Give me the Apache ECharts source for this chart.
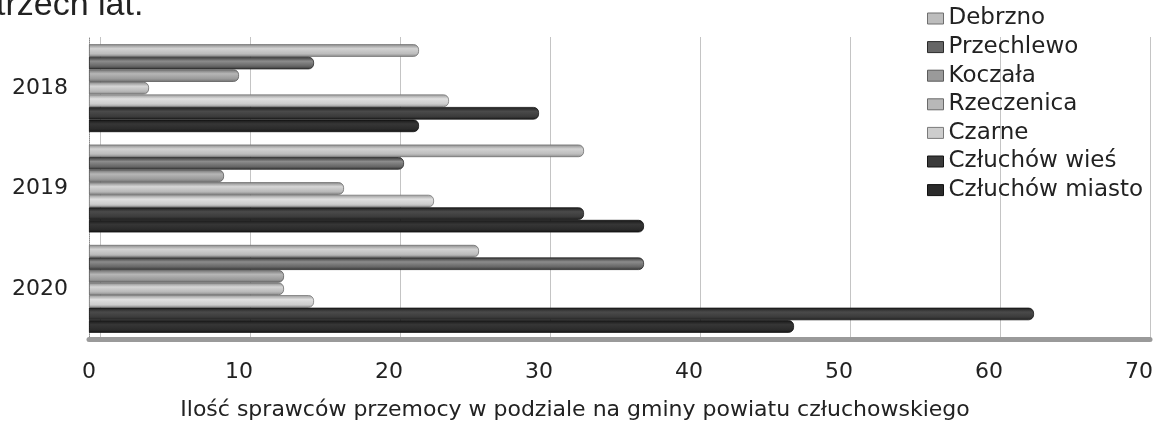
<!DOCTYPE html>
<html>
<head>
<meta charset="utf-8">
<script src="https://cdn.jsdelivr.net/npm/echarts@6/dist/echarts.min.js"></script>
<style>
html,body{margin:0;padding:0;background:#fff;}
#chart{width:1159px;height:421px;}
</style>
</head>
<body>
<div id="chart"></div>
<script>
// ---- data ----
const years = ['2018', '2019', '2020'];
const seriesNames = ['Debrzno', 'Przechlewo', 'Koczała', 'Rzeczenica', 'Czarne', 'Człuchów wieś', 'Człuchów miasto'];
const debrzno = [22, 33, 26];
const przechlewo = [15, 21, 37];
const koczala = [10, 9, 13];
const rzeczenica = [4, 17, 13];
const czarne = [24, 23, 15];
const czluchowWies = [30, 33, 63];
const czluchowMiasto = [22, 37, 47];
const xTicks = [0, 10, 20, 30, 40, 50, 60, 70];
const axisTitle = 'Ilość sprawców przemocy w podziale na gminy powiatu człuchowskiego';
const headText = 'trzech lat.';

const values = [debrzno, przechlewo, koczala, rzeczenica, czarne, czluchowWies, czluchowMiasto];
// [edge, highlight, body, border]
const palette = [
  ['#8a8a8a', '#d2d2d2', '#bdbdbd', '#6e6e6e'],
  ['#333333', '#8c8c8c', '#666666', '#2a2a2a'],
  ['#707070', '#b6b6b6', '#9a9a9a', '#5a5a5a'],
  ['#868686', '#d6d6d6', '#b8b8b8', '#6a6a6a'],
  ['#969696', '#e0e0e0', '#cdcdcd', '#7a7a7a'],
  ['#1e1e1e', '#4a4a4a', '#3b3b3b', '#151515'],
  ['#161616', '#363636', '#2b2b2b', '#101010']
];

function grad(p) {
  return new echarts.graphic.LinearGradient(0, 0, 0, 1, [
    {offset: 0, color: p[0]},
    {offset: 0.35, color: p[1]},
    {offset: 0.75, color: p[2]},
    {offset: 1, color: p[0]}
  ]);
}

const chart = echarts.init(document.getElementById('chart'), null, {renderer: 'canvas'});

const series = seriesNames.map((name, i) => ({
  name: name,
  type: 'bar',
  xAxisIndex: 0,
  yAxisIndex: 0,
  data: values[i],
  barGap: '0%',
  barCategoryGap: '12.4%',
  z: 3,
  itemStyle: {
    color: grad(palette[i]),
    borderRadius: [0, 5, 5, 0],
    borderColor: palette[i][3],
    borderWidth: 0.8
  },
  emphasis: {disabled: true}
}));

// empty series on the back grid so its axes render
series.push({
  type: 'bar', name: '__back', xAxisIndex: 1, yAxisIndex: 1, data: [], silent: true
});

const option = {
  backgroundColor: '#ffffff',
  animation: false,
  textStyle: {fontFamily: 'DejaVu Sans'},
  legend: {
    data: seriesNames.map((n, i) => ({name: n, itemStyle: {color: palette[i][2], borderColor: palette[i][3], borderWidth: 1}})),
    orient: 'vertical',
    left: 927,
    top: 7,
    padding: 0,
    itemWidth: 16,
    itemHeight: 11,
    itemGap: 5.6,
    icon: 'rect',
    selectedMode: false,
    textStyle: {fontFamily: 'DejaVu Sans', fontSize: 23, color: '#222', lineHeight: 23}
  },
  grid: [
    {left: 89, right: 20, top: 38, bottom: 82, containLabel: false, outerBoundsMode: 'none'},
    {left: 100, right: 9, top: 37, bottom: 82, containLabel: false, outerBoundsMode: 'none'}
  ],
  xAxis: [
    {
      type: 'value', gridIndex: 0, min: 0, max: 70, interval: 10,
      axisLine: {show: true, lineStyle: {color: '#9a9a9a', width: 5}},
      axisTick: {show: false},
      splitLine: {show: false},
      axisLabel: {fontFamily: 'DejaVu Sans', fontSize: 22, color: '#222', margin: 22},
      name: axisTitle,
      nameLocation: 'middle',
      nameGap: 60,
      nameTextStyle: {fontFamily: 'DejaVu Sans', fontSize: 22, color: '#222', padding: [0, 78, 0, 0]}
    },
    {
      type: 'value', gridIndex: 1, min: 0, max: 70, interval: 10,
      axisLine: {show: true, lineStyle: {color: '#9a9a9a', width: 5}},
      axisTick: {show: false},
      axisLabel: {show: false},
      splitLine: {show: true, lineStyle: {color: '#c4c4c4', width: 1}}
    }
  ],
  yAxis: [
    {
      type: 'category', gridIndex: 0, data: years, inverse: true,
      axisLine: {show: true, lineStyle: {color: '#8a8a8a', type: 'dotted', width: 1}},
      axisTick: {show: false},
      axisLabel: {fontFamily: 'DejaVu Sans', fontSize: 22, color: '#222', margin: 21}
    },
    {
      type: 'category', gridIndex: 1, data: years, inverse: true,
      axisLine: {show: false}, axisTick: {show: false}, axisLabel: {show: false},
      splitLine: {show: false}
    }
  ],
  graphic: [
    {
      type: 'text', left: -4, top: -11, silent: true,
      style: {text: headText, font: '34px "Liberation Sans"', fill: '#222'}
    }
  ],
  series: series
};
chart.setOption(option);
</script>
</body>
</html>
